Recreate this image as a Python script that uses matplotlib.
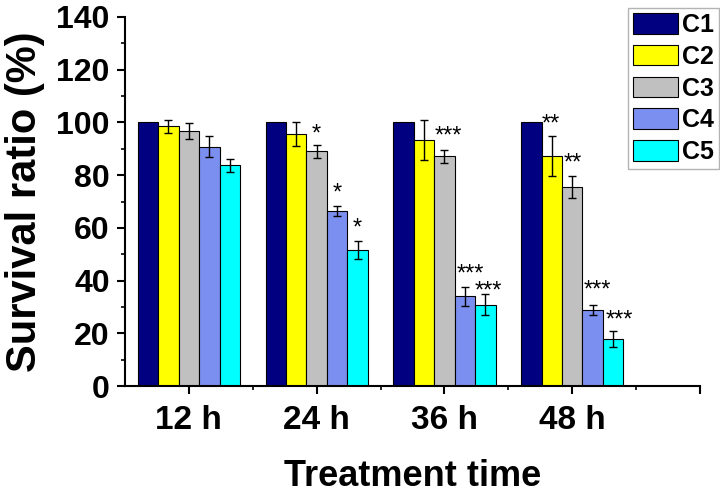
import numpy as np
import matplotlib as mpl
mpl.use('Agg')
import matplotlib.pyplot as plt
from matplotlib.ticker import MultipleLocator, FixedLocator

plt.rcParams['font.family'] = ['Liberation Sans', 'DejaVu Sans']
plt.rcParams['font.weight'] = 'bold'

# data
times = ['12 h', '24 h', '36 h', '48 h']
series = ['C1', 'C2', 'C3', 'C4', 'C5']
c1 = [100.0, 100.0, 100.0, 100.0]
c2 = [98.5, 95.5, 93.4, 87.1]
c3 = [96.8, 89.0, 87.1, 75.4]
c4 = [90.8, 66.3, 34.0, 28.9]
c5 = [83.7, 51.5, 30.8, 17.8]
c1_err = [0.0, 0.0, 0.0, 0.0]
c2_err = [2.6, 4.5, 7.6, 7.6]
c3_err = [3.0, 2.6, 2.5, 4.2]
c4_err = [4.0, 1.9, 3.6, 1.9]
c5_err = [2.6, 3.5, 4.0, 3.0]

# significance marks: (group, series index, label, glyph centre height)
sig_group = [1, 1, 1, 2, 2, 2, 3, 3, 3, 3]
sig_series = [2, 3, 4, 2, 3, 4, 0, 1, 3, 4]
sig_label = ['*', '*', '*', '***', '***', '***', '**', '**', '***', '***']
sig_y = [98.0, 75.6, 62.3, 97.2, 45.2, 38.4, 101.8, 87.0, 39.1, 27.7]
sig_dx = [0.0, 0.0, 0.0, 0.03, 0.045, 0.025, 0.15, 0.165, 0.04, 0.045]

colors = ['#000080', '#FFFF00', '#C0C0C0', '#7B8FF0', '#00FFFF']
vals = [c1, c2, c3, c4, c5]
errs = [c1_err, c2_err, c3_err, c4_err, c5_err]

fig = plt.figure(figsize=(7.2, 4.95), dpi=100)
ax = fig.add_axes([125/720, 1-386/495, 575/720, 369/495])

x = np.arange(1, len(times)+1)
w = 0.16
for i in range(len(series)):
    xi = x + (i-2)*w
    ax.bar(xi, vals[i], w, color=colors[i], edgecolor='black', linewidth=0.8,
           label=series[i], zorder=2)
    if i > 0:
        ax.errorbar(xi, vals[i], yerr=errs[i], fmt='none', ecolor='black',
                    elinewidth=1.0, capsize=3, capthick=1.0, zorder=3)

for g, s, lab, yy, dx in zip(sig_group, sig_series, sig_label, sig_y, sig_dx):
    xs = x[g] + (s-2)*w + dx
    # baseline sits below the star glyph centre
    ax.text(xs, yy - 5.0, lab, ha='center', va='baseline', fontsize=17,
            fontweight='normal', zorder=4)

ax.set_xlim(0.5, 5.0)
ax.set_ylim(0, 140)
ax.xaxis.set_major_locator(FixedLocator([1, 2, 3, 4, 5]))
ax.set_xticklabels(times + [''])
ax.xaxis.set_minor_locator(FixedLocator([1.5, 2.5, 3.5, 4.5]))
ax.yaxis.set_major_locator(MultipleLocator(20))
ax.yaxis.set_minor_locator(MultipleLocator(10))

for sp in ['top', 'right']:
    ax.spines[sp].set_visible(False)
for sp in ['left', 'bottom']:
    ax.spines[sp].set_linewidth(1.5)

ax.tick_params(axis='both', which='major', direction='out', length=6, width=1.5)
ax.tick_params(axis='both', which='minor', direction='out', length=3, width=1.2)
ax.tick_params(axis='x', labelsize=24, pad=8)
ax.tick_params(axis='y', labelsize=23, pad=5)

ax.set_ylabel('Survival ratio (%)', fontsize=30, fontweight='bold', labelpad=8)
ax.set_xlabel('Treatment time', fontsize=26, fontweight='bold', labelpad=16)

leg = ax.legend(loc='upper right', bbox_to_anchor=(719/720, 1-8/495),
                bbox_transform=fig.transFigure, borderaxespad=0, fontsize=18,
                handlelength=1.8, handleheight=0.88, handletextpad=0.15,
                labelspacing=0.31, borderpad=0.2, fancybox=False)
leg.get_frame().set_edgecolor('#A0A0A0')
leg.get_frame().set_linewidth(1.0)

fig.savefig('out.png', dpi=100)
